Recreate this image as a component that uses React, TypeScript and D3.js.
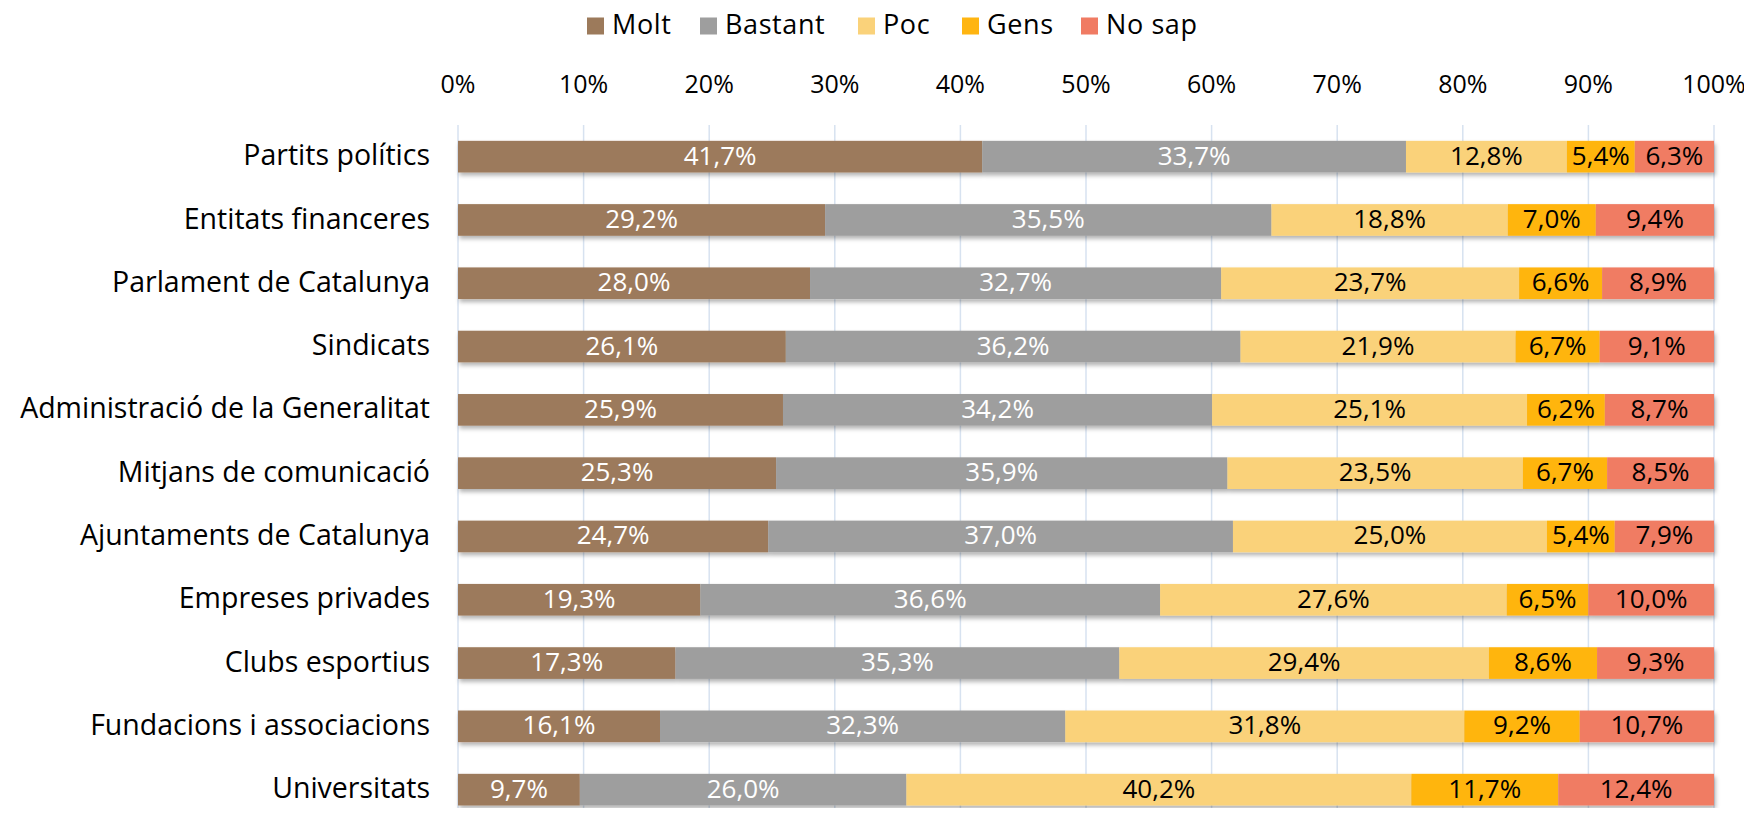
import React, { useEffect, useRef } from 'react'
import * as d3 from 'd3'

const categories = [
  'Partits polítics',
  'Entitats financeres',
  'Parlament de Catalunya',
  'Sindicats',
  'Administració de la Generalitat',
  'Mitjans de comunicació',
  'Ajuntaments de Catalunya',
  'Empreses privades',
  'Clubs esportius',
  'Fundacions i associacions',
  'Universitats',
]

const molt = [41.7, 29.2, 28.0, 26.1, 25.9, 25.3, 24.7, 19.3, 17.3, 16.1, 9.7]
const bastant = [33.7, 35.5, 32.7, 36.2, 34.2, 35.9, 37.0, 36.6, 35.3, 32.3, 26.0]
const poc = [12.8, 18.8, 23.7, 21.9, 25.1, 23.5, 25.0, 27.6, 29.4, 31.8, 40.2]
const gens = [5.4, 7.0, 6.6, 6.7, 6.2, 6.7, 5.4, 6.5, 8.6, 9.2, 11.7]
const noSap = [6.3, 9.4, 8.9, 9.1, 8.7, 8.5, 7.9, 10.0, 9.3, 10.7, 12.4]

const seriesNames = ['Molt', 'Bastant', 'Poc', 'Gens', 'No sap']
const seriesValues = [molt, bastant, poc, gens, noSap]
const colors = ['#9C7A5B', '#9E9E9E', '#FAD27A', '#FFB511', '#F07B63']
const labelColors = ['#ffffff', '#ffffff', '#000000', '#000000', '#000000']
const xTicks = [0, 10, 20, 30, 40, 50, 60, 70, 80, 90, 100]

const W = 1752
const H = 816
const FONT = '"Open Sans", "Noto Sans", sans-serif'

export default function App() {
  const ref = useRef<SVGSVGElement | null>(null)

  useEffect(() => {
    const svg = d3.select(ref.current)
    svg.selectAll('*').remove()

    const margin = { top: 125, left: 458, right: 38, bottom: 0 }

    const x = d3.scaleLinear().domain([0, 100]).range([margin.left, W - margin.right])
    const y = d3.scaleBand<string>()
      .domain(categories)
      .range([margin.top, margin.top + 63.3 * categories.length])
      .paddingInner(0.5)
      .paddingOuter(0.25)

    // soft shadow under bars
    const defs = svg.append('defs')
    const filt = defs.append('filter').attr('id', 'shadow')
      .attr('x', '-5%').attr('y', '-20%').attr('width', '110%').attr('height', '160%')
    filt.append('feDropShadow')
      .attr('dx', 1.5).attr('dy', 3).attr('stdDeviation', 2)
      .attr('flood-color', '#000').attr('flood-opacity', 0.3)

    // gridlines
    svg.append('g')
      .selectAll('line')
      .data(xTicks)
      .join('line')
      .attr('x1', d => x(d)).attr('x2', d => x(d))
      .attr('y1', margin.top).attr('y2', H)
      .attr('stroke', '#D7E2F0').attr('stroke-width', 1.5)

    // top axis labels
    svg.append('g')
      .selectAll('text')
      .data(xTicks)
      .join('text')
      .attr('x', d => x(d)).attr('y', 86)
      .attr('text-anchor', 'middle').attr('dominant-baseline', 'middle')
      .attr('font-family', FONT).attr('font-size', 25).attr('fill', '#000')
      .text(d => d + '%')

    // stacked data (100% stacked)
    const rows = categories.map((c, i) => {
      const vals = seriesValues.map(s => s[i])
      const total = d3.sum(vals)
      let acc = 0
      return vals.map((v, k) => {
        const x0 = (acc / total) * 100
        acc += v
        return { cat: c, k, v, x0, x1: (acc / total) * 100 }
      })
    })

    const rowG = svg.append('g')
      .selectAll('g')
      .data(rows)
      .join('g')

    rowG.append('g')
      .attr('filter', 'url(#shadow)')
      .selectAll('rect')
      .data(d => d)
      .join('rect')
      .attr('x', d => x(d.x0))
      .attr('width', d => x(d.x1) - x(d.x0))
      .attr('y', d => y(d.cat)!)
      .attr('height', y.bandwidth())
      .attr('fill', d => colors[d.k])

    rowG.append('g')
      .selectAll('text')
      .data(d => d)
      .join('text')
      .attr('x', d => (x(d.x0) + x(d.x1)) / 2)
      .attr('y', d => y(d.cat)! + y.bandwidth() / 2 + 1)
      .attr('text-anchor', 'middle').attr('dominant-baseline', 'middle')
      .attr('font-family', FONT).attr('font-size', 26)
      .attr('fill', d => labelColors[d.k])
      .text(d => d.v.toFixed(1).replace('.', ',') + '%')

    // category labels
    svg.append('g')
      .selectAll('text')
      .data(categories)
      .join('text')
      .attr('x', 430)
      .attr('y', d => y(d)! + y.bandwidth() / 2 + 1)
      .attr('text-anchor', 'end').attr('dominant-baseline', 'middle')
      .attr('font-family', FONT).attr('font-size', 28.5).attr('fill', '#000')
      .text(d => d)

    // legend
    const legendX = [587, 700, 858, 962, 1081]
    const lg = svg.append('g')
      .selectAll('g')
      .data(seriesNames)
      .join('g')
      .attr('transform', (d, i) => `translate(${legendX[i]},26)`)
    lg.append('rect')
      .attr('x', 0).attr('y', -8.5).attr('width', 17).attr('height', 17)
      .attr('fill', (d, i) => colors[i])
    lg.append('text')
      .attr('x', 25).attr('y', 1)
      .attr('dominant-baseline', 'middle')
      .attr('font-family', FONT).attr('font-size', 27).attr('letter-spacing', 0.6).attr('fill', '#000')
      .text(d => d)
  }, [])

  return (
    <svg ref={ref} width={W} height={H} style={{ display: 'block', margin: '-8px', background: '#fff', overflow: 'visible' }} />
  )
}
